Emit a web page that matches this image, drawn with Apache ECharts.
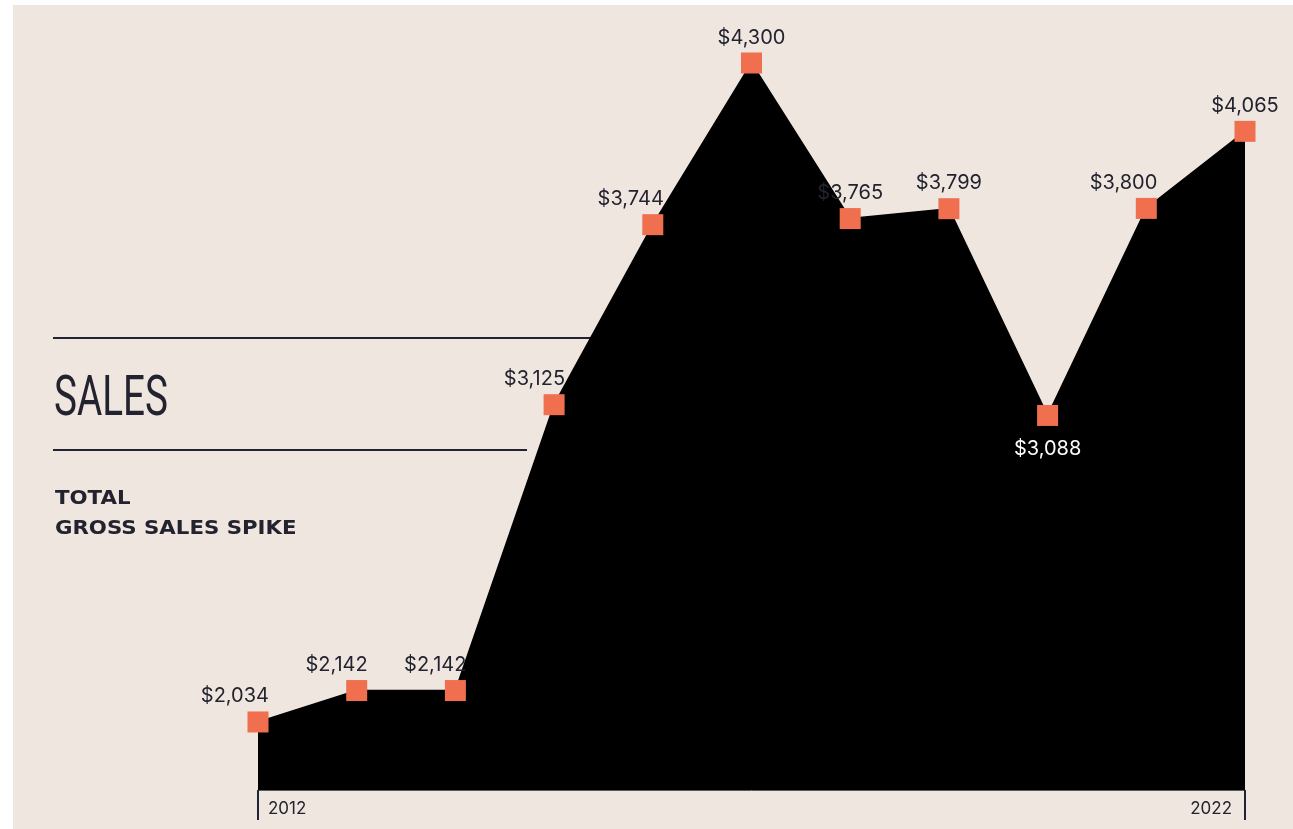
<!DOCTYPE html>
<html>
<head>
<meta charset="utf-8">
<script src="https://cdn.jsdelivr.net/npm/echarts@6/dist/echarts.min.js"></script>
<style>
  html, body { margin: 0; padding: 0; background: #ffffff; }
  #chart { width: 1293px; height: 829px; }
</style>
</head>
<body>
<div id="chart"></div>
<script>
// Gross sales by year
const years = ['2012', '2013', '2014', '2015', '2016', '2017', '2018', '2019', '2020', '2021', '2022'];
const sales = [2034, 2142, 2142, 3125, 3744, 4300, 3765, 3799, 3088, 3800, 4065];
const shownYears = ['2012', '2022'];

const PAPER = '#EFE6E0';
const INK = '#23232f';
const ACCENT = '#EF6F4F';

// label placement per point: 'end' = right-aligned to the marker, 'mid' = centred, 'below' = under the marker
const labelPlacement = ['end', 'end', 'end', 'end', 'end', 'mid', 'mid', 'mid', 'below', 'end', 'mid'];

const money = v => '$' + v.toLocaleString('en-US');

const seriesData = sales.map((v, i) => {
  const p = labelPlacement[i];
  const label = p === 'below'
    ? { position: 'bottom', distance: 13, color: '#ffffff' }
    : p === 'end'
      ? { position: 'top', align: 'right', offset: [11, 0] }
      : { position: 'top' };
  return { value: v, label };
});

const chart = echarts.init(document.getElementById('chart'));
chart.setOption({
  backgroundColor: '#ffffff',
  animation: false,
  grid: { left: 258, right: 48, top: 63, bottom: 39 },
  xAxis: {
    type: 'category',
    data: years,
    boundaryGap: false,
    axisLine: { show: true, lineStyle: { color: '#5a5a62', width: 1 } },
    axisTick: {
      show: true,
      length: 30,
      interval: (i, v) => shownYears.includes(v),
      lineStyle: { color: '#1f2436', width: 2 }
    },
    axisLabel: {
      interval: (i, v) => shownYears.includes(v),
      margin: 10,
      alignMinLabel: 'left',
      alignMaxLabel: 'right',
      padding: [0, 13, 0, 10],
      fontFamily: 'Inter',
      fontSize: 17,
      color: INK
    },
    splitLine: { show: false }
  },
  yAxis: {
    type: 'value',
    min: 1800,
    max: 4300,
    show: false,
    splitLine: { show: false }
  },
  series: [{
    type: 'line',
    data: seriesData,
    clip: false,
    symbol: 'rect',
    symbolSize: 21,
    itemStyle: { color: ACCENT },
    lineStyle: { color: '#000000', width: 1.5 },
    areaStyle: { color: '#000000', opacity: 1 },
    label: {
      show: true,
      formatter: p => money(p.value),
      fontFamily: 'Inter',
      fontSize: 20,
      color: INK
    },
    emphasis: { disabled: true },
    z: 3
  }],
  graphic: [
    {
      type: 'rect', z: -10, silent: true,
      shape: { x: 13, y: 5, width: 1293 - 13, height: 829 - 5 },
      style: { fill: PAPER }
    },
    {
      type: 'line', silent: true,
      shape: { x1: 53, y1: 338, x2: 600, y2: 338 },
      style: { stroke: INK, lineWidth: 2 }
    },
    {
      type: 'line', silent: true,
      shape: { x1: 53, y1: 450, x2: 527, y2: 450 },
      style: { stroke: INK, lineWidth: 2 }
    },
    {
      type: 'text', silent: true,
      x: 54, y: 401, scaleX: 0.69,
      style: {
        text: 'SALES',
        fontFamily: 'Roboto',
        fontWeight: 'normal',
        fontSize: 56,
        fill: INK,
        textAlign: 'left',
        textVerticalAlign: 'middle'
      }
    },
    {
      type: 'text', silent: true,
      x: 55, y: 499, scaleX: 1.12,
      style: {
        text: 'TOTAL',
        fontFamily: 'DejaVu Sans',
        fontWeight: 'bold',
        fontSize: 19,
        fill: INK,
        textAlign: 'left',
        textVerticalAlign: 'middle'
      }
    },
    {
      type: 'text', silent: true,
      x: 55, y: 529, scaleX: 1.12,
      style: {
        text: 'GROSS SALES SPIKE',
        fontFamily: 'DejaVu Sans',
        fontWeight: 'bold',
        fontSize: 19,
        fill: INK,
        textAlign: 'left',
        textVerticalAlign: 'middle'
      }
    }
  ]
});
</script>
</body>
</html>
